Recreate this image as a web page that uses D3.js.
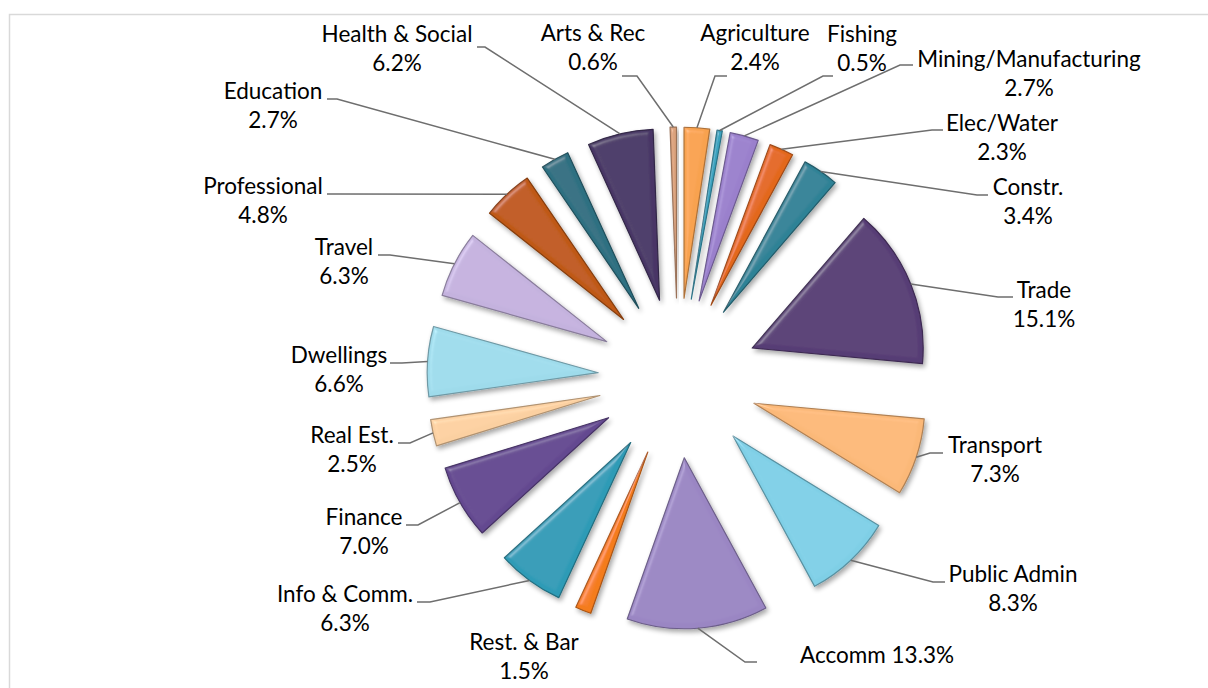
<!DOCTYPE html>
<html>
<head>
<meta charset="utf-8">
<script src="https://cdn.jsdelivr.net/npm/d3@7"></script>
<style>
  body { margin: 0; background: #ffffff; }
  svg text { font-family: Lato, "Liberation Sans", sans-serif; fill: #000; }
</style>
</head>
<body>
<svg id="chart" width="1208" height="688"></svg>
<script>
// Share of total by sector (%), clockwise from 12 o'clock
const categories = ["Agriculture", "Fishing", "Mining/Manufacturing", "Elec/Water", "Constr.",
  "Trade", "Transport", "Public Admin", "Accomm", "Rest. & Bar", "Info & Comm.", "Finance",
  "Real Est.", "Dwellings", "Travel", "Professional", "Education", "Health & Social", "Arts & Rec"];
const shares = [2.4, 0.5, 2.7, 2.3, 3.4, 15.1, 7.3, 8.3, 13.3, 1.5, 6.3, 7.0, 2.5, 6.6, 6.3, 4.8, 2.7, 6.2, 0.6];
const sliceColors = ["#f8a24f", "#3ba3bf", "#9a80cc", "#e3681c", "#2f8296", "#573c75", "#fbb878",
  "#7fcfe6", "#9a86c3", "#f47b1c", "#2e9bb6", "#644890", "#fbd0a1", "#9edbeb", "#c4b2de",
  "#bf5914", "#2d6f81", "#483666", "#dba27c"];
// Single-line labels
const singleLine = ["Accomm"];

// Label placement: text centre x, first baseline y, leader attach point, leader elbow point
const labelLayout = [
  { x: 755, y: 41, ax: 727, ay: 76, ex: 715, ey: 76 },
  { x: 862, y: 42, ax: 833, ay: 76, ex: 823, ey: 76 },
  { x: 1029, y: 67, ax: 913, ay: 65, ex: 900, ey: 65 },
  { x: 1002, y: 131, ax: 943, ay: 130, ex: 932, ey: 130 },
  { x: 1028, y: 195, ax: 988, ay: 195, ex: 977, ey: 195 },
  { x: 1044, y: 298, ax: 1013, ay: 297, ex: 998, ey: 297 },
  { x: 995, y: 453, ax: 943, ay: 453, ex: 930, ey: 453 },
  { x: 1013, y: 582, ax: 945, ay: 582, ex: 933, ey: 582 },
  { x: 800, y: 663, ax: 757, ay: 662, ex: 745, ey: 662, anchor: "start" },
  { x: 524, y: 650, ax: null },
  { x: 345, y: 602, ax: 417, ay: 602, ex: 430, ey: 602 },
  { x: 364, y: 525, ax: 406, ay: 525, ex: 418, ey: 525 },
  { x: 352, y: 443, ax: 398, ay: 443, ex: 410, ey: 443 },
  { x: 339, y: 363, ax: 390, ay: 363, ex: 402, ey: 363 },
  { x: 344, y: 255, ax: 378, ay: 255, ex: 390, ey: 255 },
  { x: 263, y: 194, ax: 327, ay: 194, ex: 339, ey: 194 },
  { x: 273, y: 99, ax: 327, ay: 99, ex: 337, ey: 99 },
  { x: 397, y: 42, ax: 477, ay: 47, ex: 485, ey: 47 },
  { x: 593, y: 41, ax: 622, ay: 76, ex: 637, ey: 76 }
];

const width = 1208, height = 688;
const cx = 678, cy = 378;     // pie centre
const radius = 171;           // slice radius
const explode = 80;           // distance each slice is pulled out
const lineGap = 29;           // label line spacing

const data = categories.map((c, i) => ({ name: c, value: shares[i], color: sliceColors[i], layout: labelLayout[i] }));

const svg = d3.select("#chart");

// Chart area frame
svg.append("rect")
  .attr("x", 9.5).attr("y", 14.5)
  .attr("width", width + 20).attr("height", height + 20)
  .attr("fill", "#fff")
  .attr("stroke", "#d9d9d9").attr("stroke-width", 1.5);

// Bevel highlight + soft drop shadow for slices
const defs = svg.append("defs");
const f = defs.append("filter").attr("id", "bevel")
  .attr("x", "-30%").attr("y", "-30%").attr("width", "160%").attr("height", "160%");
f.append("feGaussianBlur").attr("in", "SourceAlpha").attr("stdDeviation", 2.5).attr("result", "blur");
const spec = f.append("feSpecularLighting").attr("in", "blur")
  .attr("surfaceScale", 4).attr("specularConstant", 0.5).attr("specularExponent", 25)
  .attr("lighting-color", "#ffffff").attr("result", "spec");
spec.append("feDistantLight").attr("azimuth", 225).attr("elevation", 40);
f.append("feComposite").attr("in", "spec").attr("in2", "SourceAlpha").attr("operator", "in").attr("result", "specIn");
f.append("feComposite").attr("in", "SourceGraphic").attr("in2", "specIn").attr("operator", "arithmetic")
  .attr("k1", 0).attr("k2", 1).attr("k3", 0.35).attr("k4", 0).attr("result", "lit");
f.append("feGaussianBlur").attr("in", "SourceAlpha").attr("stdDeviation", 2.5).attr("result", "sblur");
f.append("feOffset").attr("in", "sblur").attr("dx", 2).attr("dy", 3).attr("result", "soff");
const ct = f.append("feComponentTransfer").attr("in", "soff").attr("result", "shadow");
ct.append("feFuncA").attr("type", "linear").attr("slope", 0.35);
const merge = f.append("feMerge");
merge.append("feMergeNode").attr("in", "shadow");
merge.append("feMergeNode").attr("in", "lit");

const pie = d3.pie().sort(null).value(d => d.value).startAngle(0).endAngle(2 * Math.PI);
const arcs = pie(data);
const arc = d3.arc().innerRadius(0).outerRadius(radius);
const outerPoint = d3.arc().innerRadius(radius).outerRadius(radius);

function offset(d) {
  const a = (d.startAngle + d.endAngle) / 2;
  return [explode * Math.sin(a), -explode * Math.cos(a)];
}

const g = svg.append("g").attr("transform", `translate(${cx},${cy})`);

// Slices
g.selectAll("path.slice")
  .data(arcs)
  .join("path")
  .attr("class", "slice")
  .attr("transform", d => `translate(${offset(d)})`)
  .attr("d", arc)
  .attr("fill", d => d.data.color)
  .attr("stroke", d => d3.color(d.data.color).darker(1))
  .attr("stroke-width", 1.2)
  .attr("stroke-linejoin", "round")
  .attr("filter", "url(#bevel)");

// Leader lines
svg.append("g")
  .selectAll("polyline")
  .data(arcs.filter(d => d.data.layout.ax !== null))
  .join("polyline")
  .attr("fill", "none")
  .attr("stroke", "#6e6e6e")
  .attr("stroke-width", 1.5)
  .attr("points", d => {
    const L = d.data.layout;
    const [ox, oy] = offset(d);
    const [px, py] = outerPoint.centroid(d);
    return [[L.ax, L.ay], [L.ex, L.ey], [cx + ox + px, cy + oy + py]].map(p => p.join(",")).join(" ");
  });

// Labels
const labels = svg.append("g").selectAll("text")
  .data(arcs)
  .join("text")
  .attr("font-size", 22.5)
  .attr("text-anchor", d => d.data.layout.anchor || "middle")
  .attr("x", d => d.data.layout.x)
  .attr("y", d => d.data.layout.y);

labels.each(function (d) {
  const t = d3.select(this);
  const pct = d.data.value.toFixed(1) + "%";
  if (singleLine.includes(d.data.name)) {
    t.text(d.data.name + " " + pct);
  } else {
    t.append("tspan").attr("x", d.data.layout.x).text(d.data.name);
    t.append("tspan").attr("x", d.data.layout.x).attr("dy", lineGap).text(pct);
  }
});
</script>
</body>
</html>
